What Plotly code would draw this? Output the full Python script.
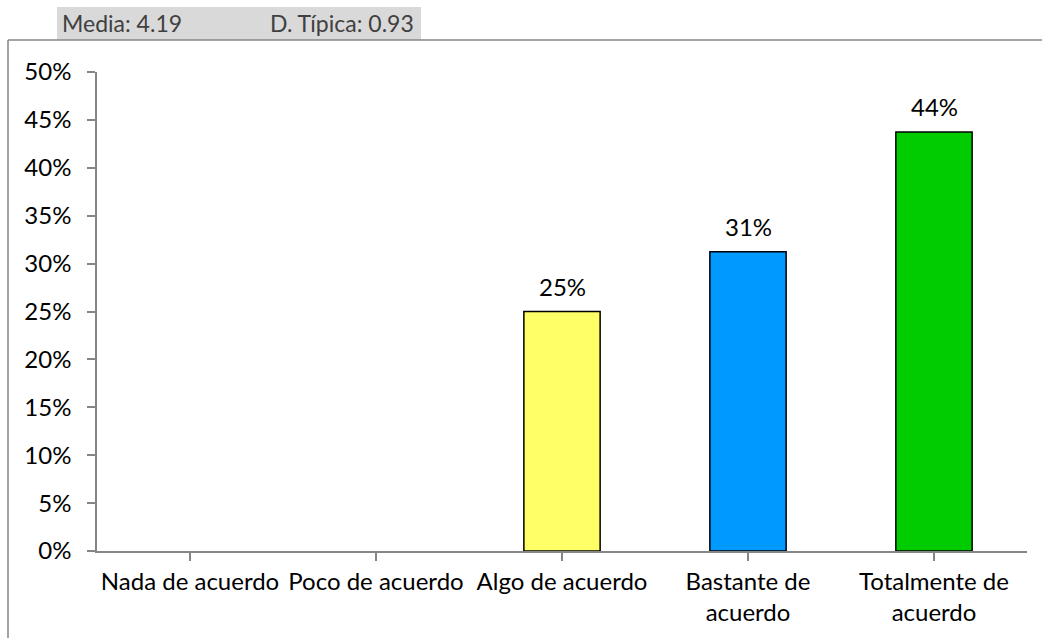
import plotly.graph_objects as go

categories = ["Nada de acuerdo", "Poco de acuerdo", "Algo de acuerdo",
              "Bastante de<br>acuerdo", "Totalmente de<br>acuerdo"]
values = [0.0, 0.0, 0.25, 0.3125, 0.4375]
bar_colors = ["#FFFF66", "#FFFF66", "#FFFF66", "#0099FF", "#00CC00"]
stats_labels = ["Media: 4.19", "D. Típica: 0.93"]

W, H = 1042, 638
L, R, T, B = 97, 15, 72, 87
PW, PH = W - L - R, H - T - B

def px(x):
    return (x - L) / PW

def py(y):
    return (H - B - y) / PH

FONT = "Lato"
FS = 24
AX = "#868686"

fig = go.Figure()
fig.add_trace(go.Bar(
    x=list(range(len(categories))), y=values,
    marker=dict(color=bar_colors,
                line=dict(color="black", width=[1.5 if v > 0 else 0 for v in values])),
    hoverinfo="skip",
))

for i, v in enumerate(values):
    if v > 0:
        fig.add_annotation(x=i, y=v, text=f"{round(v*100)}%", showarrow=False,
                           yanchor="bottom", yshift=9,
                           font=dict(family=FONT, size=FS, color="black"))

# outer chart border (left and top)
fig.add_shape(type="line", xref="paper", yref="paper",
              x0=px(8), x1=px(8), y0=py(40), y1=py(640),
              line=dict(color=AX, width=1.5))
fig.add_shape(type="line", xref="paper", yref="paper",
              x0=px(8), x1=px(1045), y0=py(40), y1=py(40),
              line=dict(color=AX, width=1.5))
# header box
fig.add_shape(type="rect", xref="paper", yref="paper",
              x0=px(57), x1=px(421), y0=py(40), y1=py(7),
              fillcolor="#D9D9D9", line=dict(width=0), layer="below")
fig.add_annotation(xref="paper", yref="paper", x=px(60), y=py(23),
                   text=stats_labels[0], showarrow=False, xanchor="left",
                   yanchor="middle", font=dict(family=FONT, size=FS - 1, color="#404040"))
fig.add_annotation(xref="paper", yref="paper", x=px(268), y=py(23),
                   text=stats_labels[1], showarrow=False, xanchor="left",
                   yanchor="middle", font=dict(family=FONT, size=FS - 1, color="#404040"))

fig.update_layout(
    width=W, height=H,
    margin=dict(l=L, r=R, t=T, b=B),
    paper_bgcolor="white", plot_bgcolor="white",
    showlegend=False,
    bargap=0.59,
    font=dict(family=FONT, size=FS, color="black"),
    xaxis=dict(
        tickmode="array", tickvals=list(range(len(categories))), ticktext=categories,
        range=[-0.5, len(categories) - 0.5],
        showline=True, linecolor=AX, linewidth=1.5,
        ticks="outside", tickson="boundaries", ticklen=8, tickcolor=AX, tickwidth=1.5,
        showgrid=False, zeroline=False,
        tickfont=dict(family=FONT, size=FS, color="black"),
    ),
    yaxis=dict(
        range=[0, 0.5], dtick=0.05, tickformat=".0%",
        showline=True, linecolor=AX, linewidth=1.5,
        ticks="outside", ticklen=8, tickcolor=AX, tickwidth=1.5,
        ticklabelstandoff=11,
        showgrid=False, zeroline=False,
        tickfont=dict(family=FONT, size=FS, color="black"),
    ),
)

fig.write_html("out.html", config={"displayModeBar": False},
               post_script="document.body.style.margin='0';document.body.style.overflow='hidden';")
